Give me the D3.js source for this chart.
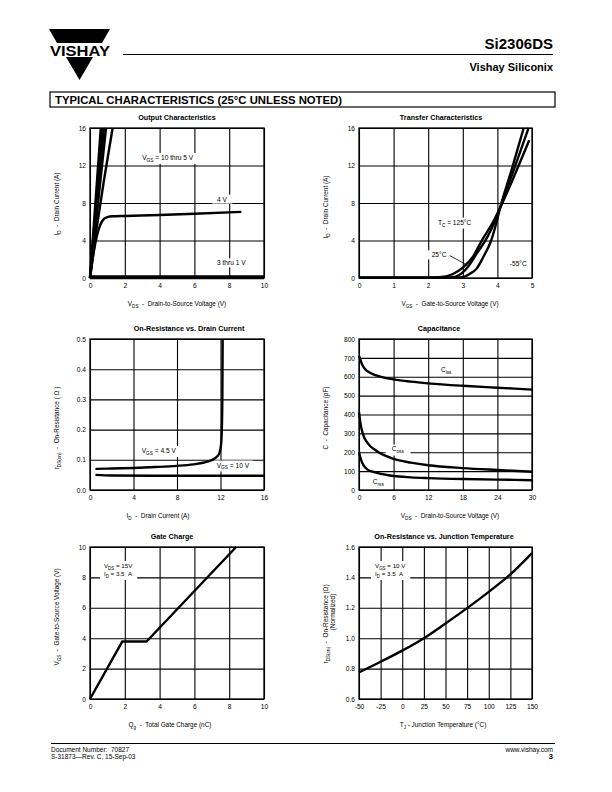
<!DOCTYPE html>
<html><head><meta charset="utf-8">
<script src="https://cdn.jsdelivr.net/npm/d3@7"></script>
<style>
body{margin:0;background:#fff}
svg{display:block}
text{font-family:"Liberation Sans",Arial,Helvetica,sans-serif;fill:#000}
</style>
</head><body>
<svg id="pg" width="612" height="792"></svg>
<script>
// ---------------- DATA ----------------
// Output Characteristics
const outTicksX = [0, 2, 4, 6, 8, 10];
const outTicksY = [0, 4, 8, 12, 16];
const outVgs10 = [[0, 0], [0.62, 16]];
const outVgs8 = [[0, 0], [0.7, 16]];
const outVgs7 = [[0, 0], [0.8, 16]];
const outVgs6 = [[0, 0], [0.92, 16]];
const outVgs5 = [[0, 0], [0.4, 5.5], [0.8, 10.4], [1.3, 16]];
const outVgs4 = [[0, 0], [0.2, 2.6], [0.4, 4.5], [0.6, 5.7], [0.8, 6.3], [1.0, 6.5], [1.3, 6.58], [2, 6.62], [4, 6.72], [6, 6.85], [8.7, 7.05]];
const outVgs3to1 = [[0, 0.08], [10, 0.08]];

// Transfer Characteristics
const trTicksX = [0, 1, 2, 3, 4, 5];
const trTicksY = [0, 4, 8, 12, 16];
const trT125 = [[0, 0.02], [2.0, 0.03], [2.4, 0.1], [2.7, 0.4], [3.0, 1.1], [3.3, 2.3], [3.55, 4.0], [3.85, 5.8], [4.08, 7.5], [4.5, 11.0], [4.92, 14.7]];
const trT25 = [[0, 0.02], [2.5, 0.03], [2.8, 0.15], [3.0, 0.6], [3.15, 1.2], [3.4, 2.6], [3.7, 4.3], [3.9, 5.8], [4.08, 7.5], [4.5, 11.8], [4.9, 16]];
const trTm55 = [[0, 0.02], [2.8, 0.03], [3.05, 0.15], [3.2, 0.45], [3.4, 1.0], [3.6, 2.3], [3.82, 4.0], [3.95, 5.6], [4.08, 7.5], [4.4, 11.4], [4.76, 16]];

// On-Resistance vs. Drain Current
const rdsTicksX = [0, 4, 8, 12, 16];
const rdsTicksY = [0, 0.1, 0.2, 0.3, 0.4, 0.5];
const rdsVgs45 = [[0.5, 0.07], [2, 0.071], [4, 0.073], [6, 0.076], [8, 0.08], [9.5, 0.085], [10.5, 0.091], [11.2, 0.099], [11.6, 0.108], [11.9, 0.122], [12.05, 0.15], [12.12, 0.2], [12.17, 0.3], [12.2, 0.5]];
const rdsVgs10 = [[0.5, 0.05], [2, 0.048], [6, 0.047], [10, 0.047], [14, 0.047], [16, 0.047]];

// Capacitance
const capTicksX = [0, 6, 12, 18, 24, 30];
const capTicksY = [0, 100, 200, 300, 400, 500, 600, 700, 800];
const capCiss = [[0, 710], [0.5, 668], [1, 642], [2, 620], [3, 607], [4, 598], [6, 586], [9, 574], [12, 565], [18, 552], [24, 542], [30, 532]];
const capCoss = [[0, 412], [0.3, 345], [0.7, 295], [1.5, 248], [3, 208], [6, 165], [9, 145], [12, 131], [18, 116], [24, 106], [30, 97]];
const capCrss = [[0, 202], [0.3, 165], [0.8, 130], [1.5, 108], [3, 92], [6, 74], [9, 67], [12, 63], [18, 58], [24, 55], [30, 52]];

// Gate Charge
const gcTicksX = [0, 2, 4, 6, 8, 10];
const gcTicksY = [0, 2, 4, 6, 8, 10];
const gcVgs = [[0, 0], [1.85, 3.78], [3.25, 3.78], [8.4, 10]];

// On-Resistance vs. Junction Temperature
const rtTicksX = [-50, -25, 0, 25, 50, 75, 100, 125, 150];
const rtTicksY = [0.6, 0.8, 1.0, 1.2, 1.4, 1.6];
const rtNorm = [[-50, 0.775], [-25, 0.845], [0, 0.918], [25, 1.0], [50, 1.097], [75, 1.198], [100, 1.305], [125, 1.42], [150, 1.56]];

// ---------------- DRAW ----------------
const svg = d3.select("#pg");
const nb = s => s.replace(/ /g, "\u00A0");

function rich(t, parts, size) {
  let shift = 0;
  parts.forEach(([s, sub]) => {
    const want = sub ? size * 0.3 : 0;
    const ts = t.append("tspan").text(nb(s)).attr("dy", want - shift);
    if (sub) ts.attr("font-size", size * 0.72);
    shift = want;
  });
}

// header
svg.append("polygon").attr("points", "49,29 110,29 102,43 57,43").attr("fill", "#000");
svg.append("polygon").attr("points", "66,57 93,57 79.5,80").attr("fill", "#000");
svg.append("text").attr("x", 50).attr("y", 56).attr("font-size", 15).attr("font-weight", 700)
  .attr("textLength", 60).attr("lengthAdjust", "spacingAndGlyphs").text("VISHAY");
svg.append("line").attr("x1", 123).attr("x2", 553).attr("y1", 54.5).attr("y2", 54.5).attr("stroke", "#000").attr("stroke-width", 1.2);
svg.append("text").attr("x", 553).attr("y", 49).attr("text-anchor", "end").attr("font-size", 15).attr("font-weight", 700).text("Si2306DS");
svg.append("text").attr("x", 553).attr("y", 71).attr("text-anchor", "end").attr("font-size", 11).attr("font-weight", 700).text("Vishay Siliconix");
svg.append("rect").attr("x", 50).attr("y", 92).attr("width", 505).attr("height", 15).attr("fill", "none").attr("stroke", "#000").attr("stroke-width", 1.2);
svg.append("text").attr("x", 55).attr("y", 103.5).attr("font-size", 10).attr("font-weight", 900)
  .attr("textLength", 287).attr("lengthAdjust", "spacingAndGlyphs").text("TYPICAL CHARACTERISTICS (25°C UNLESS NOTED)");

// footer
svg.append("line").attr("x1", 51).attr("x2", 555).attr("y1", 743.5).attr("y2", 743.5).attr("stroke", "#000").attr("stroke-width", 1);
svg.append("text").attr("x", 51).attr("y", 752).attr("font-size", 6.5).text(nb("Document Number:  70827"));
svg.append("text").attr("x", 51).attr("y", 758.5).attr("font-size", 6.5).text("S-31873\u2014Rev. C, 15-Sep-03");
svg.append("text").attr("x", 553).attr("y", 752).attr("font-size", 6.5).attr("text-anchor", "end").text("www.vishay.com");
svg.append("text").attr("x", 553).attr("y", 759).attr("font-size", 7.5).attr("font-weight", 700).attr("text-anchor", "end").text("3");

const plainFmt = d => String(d);

function chart(c) {
  const g = svg.append("g");
  const x = d3.scaleLinear().domain(c.xd).range([c.l, c.r]);
  const y = d3.scaleLinear().domain(c.yd).range([c.b, c.t]);
  const fs = 6.6;
  const ax = g.append("g").attr("transform", `translate(0,${c.b})`)
    .call(d3.axisBottom(x).tickValues(c.xt).tickSize(-(c.b - c.t)).tickPadding(5).tickFormat(c.xf || plainFmt));
  const ay = g.append("g").attr("transform", `translate(${c.l},0)`)
    .call(d3.axisLeft(y).tickValues(c.yt).tickSize(-(c.r - c.l)).tickPadding(4).tickFormat(c.yf || plainFmt));
  [ax, ay].forEach(a => {
    a.select(".domain").remove();
    a.selectAll(".tick line").attr("stroke", "#000").attr("stroke-width", 1.1);
    a.selectAll(".tick text").attr("font-size", fs).attr("font-family", '"Liberation Sans",Arial,sans-serif').attr("fill", "#000");
  });
  (c.notes || []).forEach(n => {
    const ng = g.append("g");
    const nfs = n.fs || fs;
    const texts = n.lines.map(ln => {
      const t = ng.append("text").attr("x", x(ln.x)).attr("y", y(ln.y)).attr("font-size", nfs);
      rich(t, ln.parts, nfs);
      return t;
    });
    let bb = null;
    texts.forEach(t => {
      const b = t.node().getBBox();
      if (!bb) bb = {x0: b.x, y0: b.y, x1: b.x + b.width, y1: b.y + b.height};
      else { bb.x0 = Math.min(bb.x0, b.x); bb.y0 = Math.min(bb.y0, b.y); bb.x1 = Math.max(bb.x1, b.x + b.width); bb.y1 = Math.max(bb.y1, b.y + b.height); }
    });
    const p = n.pad || 3;
    ng.insert("rect", ":first-child").attr("x", bb.x0 - p).attr("y", bb.y0 - 1)
      .attr("width", bb.x1 - bb.x0 + 2 * p).attr("height", bb.y1 - bb.y0 + 2).attr("fill", "#fff");
    if (n.leader) {
      g.append("line").attr("x1", x(n.leader[0][0])).attr("y1", y(n.leader[0][1]))
        .attr("x2", x(n.leader[1][0])).attr("y2", y(n.leader[1][1])).attr("stroke", "#000").attr("stroke-width", 0.8);
    }
  });
  c.series.forEach(s => {
    const line = d3.line().x(d => x(d[0])).y(d => y(d[1])).curve(s.curve || d3.curveMonotoneX);
    g.append("path").attr("d", line(s.data)).attr("fill", "none").attr("stroke", s.color || "#000")
      .attr("stroke-width", s.w || 2.4).attr("stroke-linejoin", "round");
  });
  g.append("rect").attr("x", c.l).attr("y", c.t).attr("width", c.r - c.l).attr("height", c.b - c.t)
    .attr("fill", "none").attr("stroke", "#000").attr("stroke-width", 1.3);
  g.append("text").attr("x", c.titleX).attr("y", c.t - 8).attr("text-anchor", "middle")
    .attr("font-size", 7.2).attr("font-weight", 700).text(c.title);
  const xl = g.append("text").attr("x", c.xlX).attr("y", c.b + 28).attr("text-anchor", "middle").attr("font-size", 6.4);
  rich(xl, c.xl, 6.4);
  c.yl.forEach((lab, i) => {
    const yl = g.append("text").attr("transform", `translate(${c.l - 31 + i * 7},${lab.cy}) rotate(-90)`)
      .attr("text-anchor", "middle").attr("font-size", 6.4);
    rich(yl, lab.parts, 6.4);
  });
}

chart({
  l: 90, r: 264, t: 128, b: 278, xd: [0, 10], yd: [0, 16], xt: outTicksX, yt: outTicksY,
  title: "Output Characteristics", titleX: 177,
  xl: [["V"], ["DS", 1], ["  -  Drain-to-Source Voltage (V)"]], xlX: 177,
  yl: [{cy: 204, parts: [["I"], ["D", 1], ["  -  Drain Current (A)"]]}],
  series: [
    {data: outVgs10, curve: d3.curveLinear}, {data: outVgs8, curve: d3.curveLinear},
    {data: outVgs7, curve: d3.curveLinear}, {data: outVgs6, curve: d3.curveLinear},
    {data: outVgs5}, {data: outVgs4}, {data: outVgs3to1, w: 4, curve: d3.curveLinear}
  ],
  notes: [
    {lines: [{x: 3.0, y: 12.6, parts: [["V"], ["GS", 1], [" = 10 thru 5 V"]]}]},
    {lines: [{x: 7.3, y: 8.15, parts: [["4 V"]]}], pad: 5},
    {lines: [{x: 7.3, y: 1.35, parts: [["3 thru 1 V"]]}]}
  ]
});

chart({
  l: 359, r: 532, t: 128, b: 278, xd: [0, 5], yd: [0, 16], xt: trTicksX, yt: trTicksY,
  title: "Transfer Characteristics", titleX: 441,
  xl: [["V"], ["GS", 1], ["  -  Gate-to-Source Voltage (V)"]], xlX: 450,
  yl: [{cy: 207, parts: [["I"], ["D", 1], ["  -  Drain Current (A)"]]}],
  series: [{data: trT125}, {data: trT25}, {data: trTm55}],
  notes: [
    {lines: [{x: 2.28, y: 5.7, parts: [["T"], ["C", 1], [" = 125°C"]]}], pad: 8},
    {lines: [{x: 2.1, y: 2.2, parts: [["25°C"]]}], pad: 4, leader: [[2.62, 2.4], [3.14, 1.35]]},
    {lines: [{x: 4.36, y: 1.23, parts: [["-55°C"]]}]}
  ]
});

chart({
  l: 90, r: 264, t: 339, b: 490, xd: [0, 16], yd: [0, 0.5], xt: rdsTicksX, yt: rdsTicksY, yf: d3.format(".1f"),
  title: "On-Resistance vs. Drain Current", titleX: 189,
  xl: [["I"], ["D", 1], ["  -  Drain Current (A)"]], xlX: 158,
  yl: [{cy: 428, parts: [["r"], ["DS(on)", 1], ["  -  On-Resistance ( \u03A9 )"]]}],
  series: [{data: rdsVgs45}, {data: rdsVgs10}],
  notes: [
    {lines: [{x: 4.75, y: 0.1225, parts: [["V"], ["GS", 1], [" = 4.5 V"]]}]},
    {lines: [{x: 11.65, y: 0.0745, parts: [["V"], ["GS", 1], [" = 10 V"]]}]}
  ]
});

chart({
  l: 359, r: 532, t: 339, b: 490, xd: [0, 30], yd: [0, 800], xt: capTicksX, yt: capTicksY,
  title: "Capacitance", titleX: 439,
  xl: [["V"], ["DS", 1], ["  -  Drain-to-Source Voltage (V)"]], xlX: 450,
  yl: [{cy: 418, parts: [["C  -  Capacitance (pF)"]]}],
  series: [{data: capCiss}, {data: capCoss}, {data: capCrss}],
  notes: [
    {lines: [{x: 14.2, y: 625, parts: [["C"], ["iss", 1]]}]},
    {lines: [{x: 5.67, y: 204, parts: [["C"], ["oss", 1]]}], pad: 6},
    {lines: [{x: 2.37, y: 34, parts: [["C"], ["rss", 1]]}]}
  ]
});

chart({
  l: 90, r: 264, t: 547, b: 699, xd: [0, 10], yd: [0, 10], xt: gcTicksX, yt: gcTicksY,
  title: "Gate Charge", titleX: 172,
  xl: [["Q"], ["g", 1], ["  -  Total Gate Charge (nC)"]], xlX: 170,
  yl: [{cy: 617, parts: [["V"], ["GS", 1], ["  -  Gate-to-Source Voltage (V)"]]}],
  series: [{data: gcVgs, curve: d3.curveLinear}],
  notes: [
    {fs: 6.2, lines: [
      {x: 0.8, y: 8.62, parts: [["V"], ["DS", 1], [" = 15V"]]},
      {x: 0.8, y: 8.08, parts: [["I"], ["D", 1], [" = 3.5  A"]]}
    ], pad: 4}
  ]
});

chart({
  l: 359, r: 532, t: 547, b: 699, xd: [-50, 150], yd: [0.6, 1.6], xt: rtTicksX, yt: rtTicksY, yf: d3.format(".1f"),
  title: "On-Resistance vs. Junction Temperature", titleX: 444,
  xl: [["T"], ["J", 1], [" - Junction Temperature (°C)"]], xlX: 443,
  yl: [
    {cy: 624, parts: [["r"], ["DS(on)", 1], ["  -  On-Resistance (\u03A9)"]]},
    {cy: 612, parts: [["(Normalized)"]]}
  ],
  series: [{data: rtNorm}],
  notes: [
    {fs: 6.2, lines: [
      {x: -31.5, y: 1.462, parts: [["V"], ["GS", 1], [" = 10 V"]]},
      {x: -31.5, y: 1.408, parts: [["I"], ["D", 1], [" = 3.5  A"]]}
    ], pad: 4}
  ]
});
</script>
</body></html>
